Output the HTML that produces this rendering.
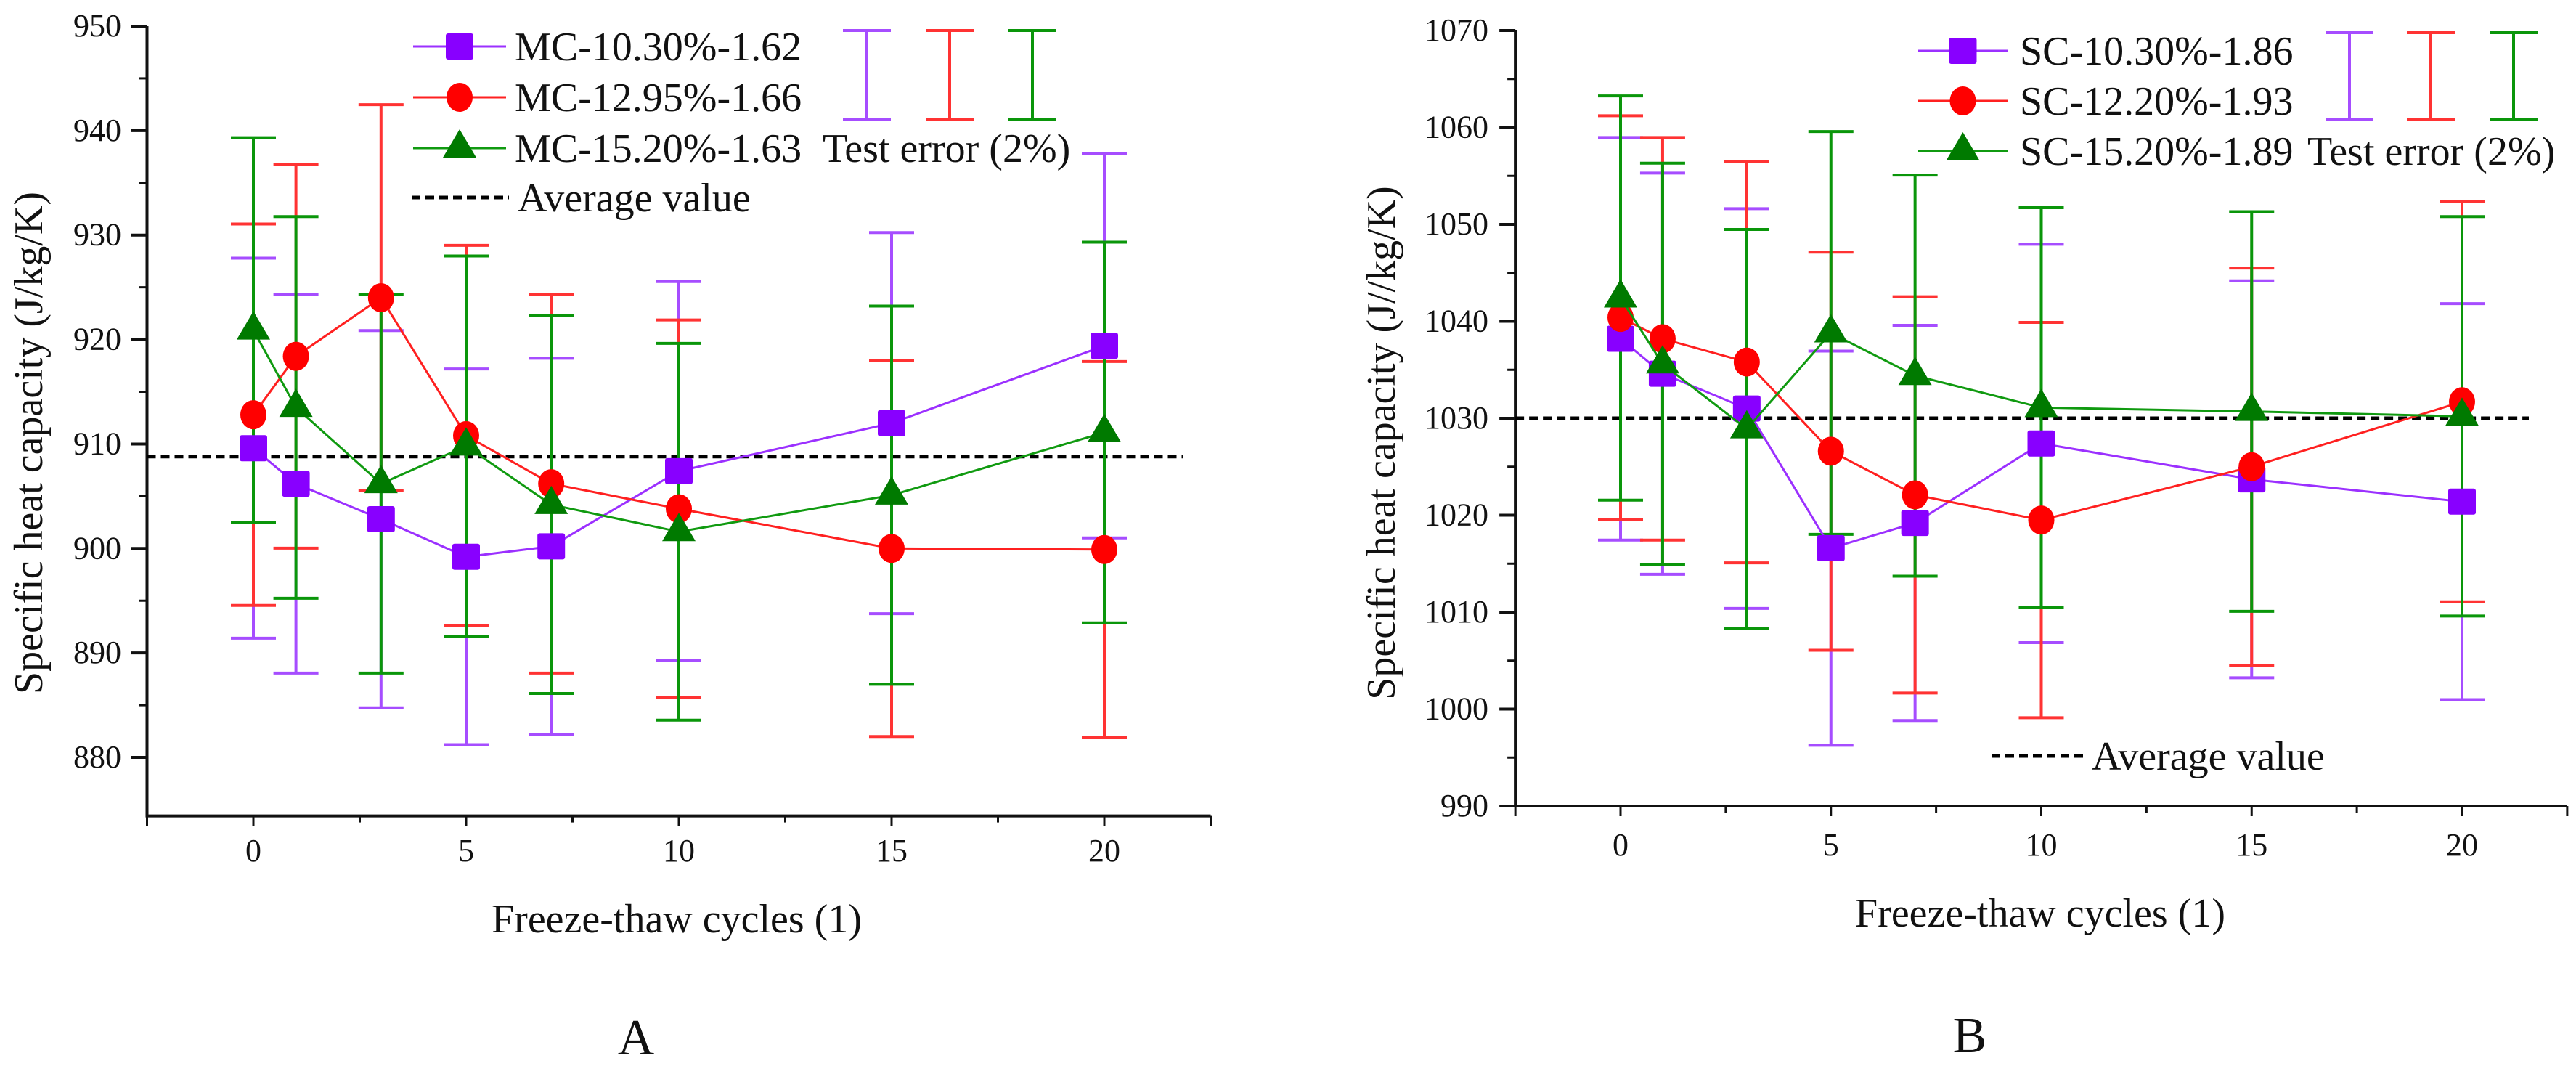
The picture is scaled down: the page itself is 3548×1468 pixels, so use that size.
<!DOCTYPE html>
<html><head><meta charset="utf-8"><style>
html,body{margin:0;padding:0;background:#fff;}
svg{display:block;}
svg text{font-family:"Liberation Serif","DejaVu Serif",serif !important;fill:#111;}
</style></head><body>
<svg id="fig" width="3548" height="1468" viewBox="0 0 3548 1468" xmlns="http://www.w3.org/2000/svg" font-family="Liberation Serif, DejaVu Serif, serif"></svg>
<script>
const cycles=[0,1,3,5,7,10,15,20];
const mc1030=[909.6,906.2,902.8,899.2,900.2,907.4,912.0,919.4];
const mc1295=[912.8,918.4,924.0,910.8,906.2,903.8,900.0,899.9];
const mc1520=[920.9,913.5,906.2,909.8,904.2,901.6,905.1,911.1];
const sc1030=[1038.2,1034.6,1031.0,1016.6,1019.2,1027.4,1023.7,1021.4];
const sc1220=[1040.4,1038.2,1035.8,1026.6,1022.1,1019.5,1025.0,1031.7];
const sc1520=[1042.4,1035.6,1028.9,1038.8,1034.4,1031.1,1030.7,1030.2];
const avgA=908.8;
const avgB=1030.0;
const errPct=0.02;
const yTicksA=[880,890,900,910,920,930,940,950];
const yTicksB=[990,1000,1010,1020,1030,1040,1050,1060,1070];
const xTicks=[0,5,10,15,20];
const namesA=["MC-10.30%-1.62","MC-12.95%-1.66","MC-15.20%-1.63"];
const namesB=["SC-10.30%-1.86","SC-12.20%-1.93","SC-15.20%-1.89"];

const NS="http://www.w3.org/2000/svg";
const svg=document.getElementById('fig');
const FONT='"Liberation Serif", "DejaVu Serif", serif';
function mk(tag,attrs,parent){const e=document.createElementNS(NS,tag);for(const k in attrs)e.setAttribute(k,attrs[k]);if(tag==='text'){e.style.fontFamily=FONT;}(parent||svg).appendChild(e);return e;}
const COL=[{line:"#9b30ff",err:"#a64dff",fill:"#8800ff",shape:"square"},{line:"#ff2020",err:"#ff3333",fill:"#ff0000",shape:"circle"},{line:"#109a10",err:"#0a960a",fill:"#007a00",shape:"tri"}];

function marker(g,shape,cx,cy,fill){
  let m;
  if(shape==="square"){m=mk('rect',{x:cx-19,y:cy-18,width:38,height:36,fill:fill,rx:3},g);}
  else if(shape==="circle"){m=mk('ellipse',{cx:cx,cy:cy,rx:18,ry:20,fill:fill},g);}
  else {m=mk('polygon',{points:`${cx},${cy-26} ${cx+23},${cy+13} ${cx-23},${cy+13}`,fill:fill},g);}
  return m;
}

function chart(cfg){
  const g=mk('g',{});
  
  
  const X=v=>cfg.x0+cfg.xs*v;
  const Y=v=>cfg.y0+(cfg.ymax-v)*cfg.ys;
  const axisY=Y(cfg.ymin);
  const ax=mk('path',{d:`M${X(-2.5)},${Y(cfg.ymax)} L${X(-2.5)},${axisY} L${X(22.5)},${axisY}`,stroke:"#111","stroke-width":4,fill:"none"},g);
  
  
  const step=cfg.yTicks[1]-cfg.yTicks[0];
  cfg.yTicks.forEach((t,i)=>{
    mk('line',{x1:X(-2.5)-22,x2:X(-2.5),y1:Y(t),y2:Y(t),stroke:"#111","stroke-width":4},g);
    if(i<cfg.yTicks.length-1){const h=t+step/2;mk('line',{x1:X(-2.5)-11,x2:X(-2.5),y1:Y(h),y2:Y(h),stroke:"#111","stroke-width":3},g);}
    const tl=mk('text',{x:cfg.tickRight,y:Y(t)+14,"font-size":44,"text-anchor":"end"},g);
    tl.textContent=t;
    
    
  });
  [-2.5,0,2.5,5,7.5,10,12.5,15,17.5,20,22.5].forEach(t=>{
    const major=xTicks.indexOf(t)>=0||t===-2.5||t===22.5;
    mk('line',{x1:X(t),x2:X(t),y1:axisY,y2:axisY+(major?14:9),stroke:"#111","stroke-width":3},g);
  });
  xTicks.forEach(t=>{
    const tl=mk('text',{x:X(t),y:cfg.xLabY,"font-size":44,"text-anchor":"middle"},g);
    tl.textContent=t;
    
    
  });
  const yt=mk('text',{x:0,y:0,"font-size":56,"text-anchor":"middle",transform:`translate(${cfg.ytX},${cfg.ytY}) rotate(-90)`},g);
  yt.textContent=cfg.yTitle;
  
  
  const xt=mk('text',{x:cfg.xtX,y:cfg.xtY,"font-size":56,"text-anchor":"middle"},g);
  xt.textContent="Freeze-thaw cycles (1)";
  
  
  const pl=mk('text',{x:cfg.panX,y:cfg.panY,"font-size":70,"text-anchor":"middle"},g);
  pl.textContent=cfg.panel;
  
  
  const av=mk('line',{x1:X(-2.5),x2:cfg.avgEnd,y1:Y(cfg.avg),y2:Y(cfg.avg),stroke:"#000","stroke-width":5,"stroke-dasharray":"12 7"},g);
  
  
  cfg.series.forEach((s,si)=>{
    s.forEach((v,i)=>{
      const eg=mk('g',{stroke:COL[si].err,"stroke-width":4},g);
      
      
      const x=X(cycles[i]),hi=Y(v*(1+errPct)),lo=Y(v*(1-errPct));
      mk('line',{x1:x,x2:x,y1:hi,y2:lo},eg);
      mk('line',{x1:x-31,x2:x+31,y1:hi,y2:hi},eg);
      mk('line',{x1:x-31,x2:x+31,y1:lo,y2:lo},eg);
    });
  });
  cfg.series.forEach((s,si)=>{
    const sg=mk('g',{},g);
    
    
    const pts=s.map((v,i)=>X(cycles[i])+','+Y(v)).join(' ');
    mk('polyline',{points:pts,fill:"none",stroke:COL[si].line,"stroke-width":3},sg);
    s.forEach((v,i)=>{
      const m=marker(sg,COL[si].shape,X(cycles[i]),Y(v),COL[si].fill);
      
      
    });
  });
  const lg=mk('g',{},g);
  
  
  cfg.names.forEach((n,i)=>{
    const cy=cfg.legRows[i];
    const le=mk('g',{},lg);
    
    
    mk('line',{x1:cfg.legX1,x2:cfg.legX2,y1:cy,y2:cy,stroke:COL[i].line,"stroke-width":3},le);
    marker(le,COL[i].shape,(cfg.legX1+cfg.legX2)/2,cy,COL[i].fill);
    const t=mk('text',{x:cfg.legTx,y:cy+19,"font-size":56},le);
    t.textContent=n;
  });
  cfg.errIcons.forEach((x,i)=>{
    const eg=mk('g',{stroke:COL[i].err,"stroke-width":4},lg);
    
    
    mk('line',{x1:x,x2:x,y1:cfg.errTop,y2:cfg.errBot},eg);
    mk('line',{x1:x-33,x2:x+33,y1:cfg.errTop,y2:cfg.errTop},eg);
    mk('line',{x1:x-33,x2:x+33,y1:cfg.errBot,y2:cfg.errBot},eg);
  });
  const te=mk('text',{x:cfg.teX,y:cfg.legRows[2]+19,"font-size":56},lg);
  te.textContent="Test error (2%)";
  
  
  const ae=mk('g',{},lg);
  
  
  mk('line',{x1:cfg.avLegX1,x2:cfg.avLegX2,y1:cfg.avLegY,y2:cfg.avLegY,stroke:"#000","stroke-width":5,"stroke-dasharray":"12 7"},ae);
  const at=mk('text',{x:cfg.avLegX2+12,y:cfg.avLegY+19,"font-size":56},ae);
  at.textContent="Average value";
}

chart({name:"chart-a",panel:"A",x0:349,xs:58.6,y0:36,ymax:950,ymin:874.4,ys:14.386,yTicks:yTicksA,
  series:[mc1030,mc1295,mc1520],names:namesA,avg:avgA,avgEnd:1629,tickRight:167,xLabY:1186,
  yTitle:"Specific heat capacity (J/kg/K)",ytX:58,ytY:610,xtX:932,xtY:1284,panX:876,panY:1452,
  legRows:[64,134,204],legX1:569,legX2:697,legTx:709,errIcons:[1194,1308,1422],errTop:42,errBot:164,teX:1133,
  avLegX1:567,avLegX2:701,avLegY:272});
chart({name:"chart-b",panel:"B",x0:2232,xs:57.95,y0:42,ymax:1070,ymin:990,ys:13.35,yTicks:yTicksB,
  series:[sc1030,sc1220,sc1520],names:namesB,avg:avgB,avgEnd:3483,tickRight:2050,xLabY:1178,
  yTitle:"Specific heat capacity (J//kg/K)",ytX:1921,ytY:610,xtX:2810,xtY:1276,panX:2713,panY:1449,
  legRows:[70,139,208],legX1:2642,legX2:2765,legTx:2782,errIcons:[3236,3348,3462],errTop:45,errBot:165,teX:3178,
  avLegX1:2743,avLegX2:2869,avLegY:1041});
</script>
</body></html>
